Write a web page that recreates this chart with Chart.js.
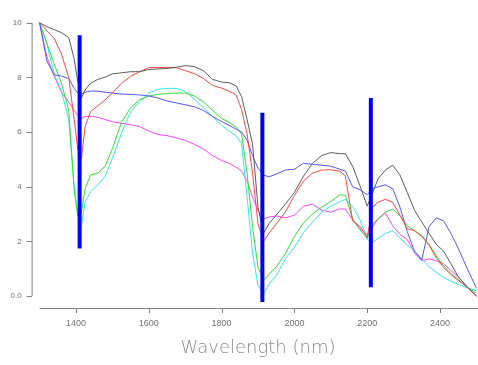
<!DOCTYPE html>
<html>
<head>
<meta charset="utf-8">
<script src="https://cdn.jsdelivr.net/npm/chart.js@4.4.0/dist/chart.umd.min.js"></script>
<style>
  html, body { margin: 0; padding: 0; background: #fff; }
</style>
</head>
<body>
<canvas id="chart" width="478" height="365"></canvas>
<script>
// ---- data ----
const wavelengths = [1300, 1320, 1340, 1360, 1380, 1395, 1405, 1415, 1425, 1440,
  1460, 1480, 1500, 1525, 1550, 1575, 1600, 1625, 1650, 1675,
  1700, 1725, 1750, 1775, 1800, 1820, 1840, 1855, 1870, 1885,
  1900, 1915, 1930, 1950, 1975, 2000, 2025, 2050, 2075, 2100,
  2125, 2140, 2160, 2180, 2200, 2215, 2230, 2250, 2270, 2290,
  2310, 2330, 2350, 2370, 2390, 2410, 2430, 2450, 2475, 2500];

const grayValues = [10.0, 9.86, 9.75, 9.64, 9.46, 8.68, 7.83, 7.25, 7.54, 7.79,
  7.93, 8.01, 8.13, 8.17, 8.21, 8.21, 8.29, 8.31, 8.33, 8.37,
  8.43, 8.40, 8.25, 7.93, 7.83, 7.81, 7.69, 7.29, 6.46, 5.57,
  3.25, 2.29, 2.64, 2.96, 3.36, 3.79, 4.39, 4.86, 5.14, 5.25,
  5.21, 5.21, 4.75, 4.04, 3.29, 3.79, 4.29, 4.61, 4.79, 4.43,
  3.79, 3.14, 2.71, 2.29, 1.89, 1.64, 1.18, 0.71, 0.32, 0.0];

const redValues = [10.0, 9.71, 9.43, 8.86, 8.0, 6.46, 5.36, 5.04, 6.2, 6.75,
  6.96, 7.18, 7.43, 7.79, 8.04, 8.21, 8.36, 8.36, 8.37, 8.36,
  8.25, 8.14, 7.96, 7.71, 7.61, 7.5, 7.36, 6.82, 5.93, 4.5,
  2.64, 2.0, 2.29, 2.64, 3.07, 3.68, 4.21, 4.5, 4.61, 4.62,
  4.57, 4.39, 2.75, 2.55, 2.14, 3.25, 3.43, 3.54, 3.43, 2.96,
  2.46, 2.39, 2.18, 1.86, 1.39, 1.04, 0.79, 0.57, 0.32, 0.0];

const blueValues = [10.0, 8.6, 8.1, 8.05, 7.96, 7.6, 7.43, 7.39, 7.46, 7.5,
  7.5, 7.46, 7.43, 7.39, 7.38, 7.36, 7.32, 7.25, 7.14, 7.07,
  7.0, 6.93, 6.79, 6.57, 6.39, 6.25, 6.11, 6.0, 5.71, 5.14,
  4.68, 4.43, 4.36, 4.46, 4.61, 4.64, 4.86, 4.82, 4.79, 4.75,
  4.64, 4.57, 4.0, 3.89, 3.71, 3.93, 4.0, 4.07, 3.93, 3.25,
  2.36, 1.64, 1.32, 2.54, 2.86, 2.75, 2.29, 1.75, 1.0, 0.29];

const greenValues = [10.0, 9.25, 8.5, 7.79, 6.8, 3.86, 2.93, 3.07, 3.93, 4.43,
  4.5, 4.75, 5.39, 6.36, 6.89, 7.18, 7.32, 7.38, 7.41, 7.43,
  7.43, 7.32, 7.11, 6.79, 6.5, 6.36, 6.18, 5.93, 4.5, 2.55,
  1.05, 0.57, 0.79, 1.07, 1.54, 2.18, 2.68, 3.0, 3.25, 3.46,
  3.71, 3.68, 2.82, 2.43, 2.11, 2.64, 2.82, 3.07, 3.18, 2.93,
  2.57, 2.39, 2.21, 1.89, 1.46, 1.11, 0.82, 0.61, 0.32, 0.11];

const cyanValues = [10.0, 9.21, 8.14, 7.5, 6.46, 4.0, 3.07, 2.6, 3.43, 3.82,
  4.07, 4.39, 5.04, 5.96, 6.75, 7.11, 7.43, 7.57, 7.6, 7.6,
  7.5, 7.21, 6.89, 6.57, 6.25, 6.04, 5.86, 5.57, 3.61, 1.57,
  0.39, 0.07, 0.43, 0.75, 1.36, 1.79, 2.32, 2.71, 3.07, 3.29,
  3.46, 3.54, 3.29, 2.79, 2.07, 1.96, 2.11, 2.29, 2.39, 2.12,
  1.86, 1.64, 1.36, 1.07, 0.86, 0.68, 0.54, 0.43, 0.29, 0.21];

const magentaValues = [10.0, 8.75, 8.04, 7.46, 7.1, 6.79, 6.61, 6.5, 6.57, 6.58,
  6.54, 6.46, 6.38, 6.32, 6.27, 6.2, 6.04, 5.91, 5.87, 5.79,
  5.7, 5.55, 5.38, 5.14, 4.96, 4.86, 4.71, 4.57, 4.21, 3.61,
  3.14, 2.82, 2.89, 2.93, 2.86, 2.96, 3.29, 3.36, 3.14, 3.07,
  3.19, 3.18, 2.79, 2.46, 2.25, 2.54, 2.82, 3.04, 2.57, 2.25,
  2.07, 1.57, 1.29, 1.36, 1.29, 1.18, 0.93, 0.71, 0.32, 0.0];

// water absorption band markers
const bandWavelengths = [1410, 1912, 2210];
const bandTop = [9.54, 6.71, 7.25];
const bandBottom = [1.74, -0.22, 0.32];

const xTicks = [1400, 1600, 1800, 2000, 2200, 2400];
const yTicks = [0, 2, 4, 6, 8, 10];

// ---- helpers ----
function toPoints(values) {
    return wavelengths.map((w, i) => ({ x: w, y: values[i] }));
}

function curve(values, color) {
    return {
        data: toPoints(values),
        borderColor: color,
        borderWidth: 1,
        pointRadius: 0,
        tension: 0,
        clip: false,
        order: 1
    };
}

const bandSets = bandWavelengths.map((w, i) => ({
    data: [{ x: w, y: bandTop[i] }, { x: w, y: bandBottom[i] }],
    borderColor: '#0000ff',
    borderWidth: 4,
    borderCapStyle: 'butt',
    pointRadius: 0,
    clip: false,
    order: 0
}));

// detached axis lines, drawn off the library scales
const detachedAxes = {
    id: 'detachedAxes',
    beforeDatasetsDraw(chart) {
        const { ctx, chartArea, scales: { x, y } } = chart;
        const ax = chartArea.left - 8;
        const ay = chartArea.bottom + 12;
        ctx.save();
        ctx.strokeStyle = '#808080';
        ctx.lineWidth = 1;
        ctx.beginPath();
        ctx.moveTo(ax + 0.5, y.getPixelForValue(0));
        ctx.lineTo(ax + 0.5, y.getPixelForValue(10));
        yTicks.forEach(v => {
            const py = Math.round(y.getPixelForValue(v)) + 0.5;
            ctx.moveTo(ax - 5, py);
            ctx.lineTo(ax + 0.5, py);
        });
        ctx.moveTo(chartArea.left, ay + 0.5);
        ctx.lineTo(chart.width, ay + 0.5);
        xTicks.forEach(v => {
            const px = Math.round(x.getPixelForValue(v)) + 0.5;
            ctx.moveTo(px, ay);
            ctx.lineTo(px, ay + 5);
        });
        ctx.stroke();
        ctx.restore();
    }
};

new Chart(document.getElementById('chart'), {
    type: 'line',
    data: {
        datasets: [
            ...bandSets,
            curve(grayValues, '#5c5c5c'),
            curve(redValues, '#ff4545'),
            curve(blueValues, '#5555ff'),
            curve(greenValues, '#33dd33'),
            curve(cyanValues, '#33eaea'),
            curve(magentaValues, '#ff44ff')
        ]
    },
    options: {
        responsive: false,
        animation: false,
        layout: { padding: { top: 16, right: 1.6, bottom: 0, left: 0 } },
        plugins: { legend: { display: false }, tooltip: { enabled: false } },
        scales: {
            x: {
                type: 'linear',
                min: 1300,
                max: 2500,
                afterBuildTicks: s => { s.ticks = xTicks.map(v => ({ value: v })); },
                afterFit: s => { s.height = 69; },
                grid: { display: false, drawTicks: false },
                border: { display: false },
                ticks: {
                    padding: 22,
                    autoSkip: false,
                    maxRotation: 0,
                    color: '#707070',
                    font: { family: 'Liberation Sans', size: 9 },
                    callback: v => String(v)
                },
                title: {
                    display: true,
                    text: 'Wavelength (nm)',
                    color: '#8a8a8a',
                    font: { family: 'DejaVu Sans', size: 18, weight: 200 },
                    padding: { top: 0, bottom: 6 }
                }
            },
            y: {
                min: 0,
                max: 10,
                afterBuildTicks: s => { s.ticks = yTicks.map(v => ({ value: v })); },
                afterFit: s => { s.width = 39.6; },
                grid: { display: false, drawTicks: false },
                border: { display: false },
                ticks: {
                    padding: 18,
                    color: '#707070',
                    font: { family: 'Liberation Sans', size: 8 },
                    callback: v => (v === 0 ? '0.0' : String(v))
                }
            }
        }
    },
    plugins: [detachedAxes]
});
</script>
</body>
</html>
